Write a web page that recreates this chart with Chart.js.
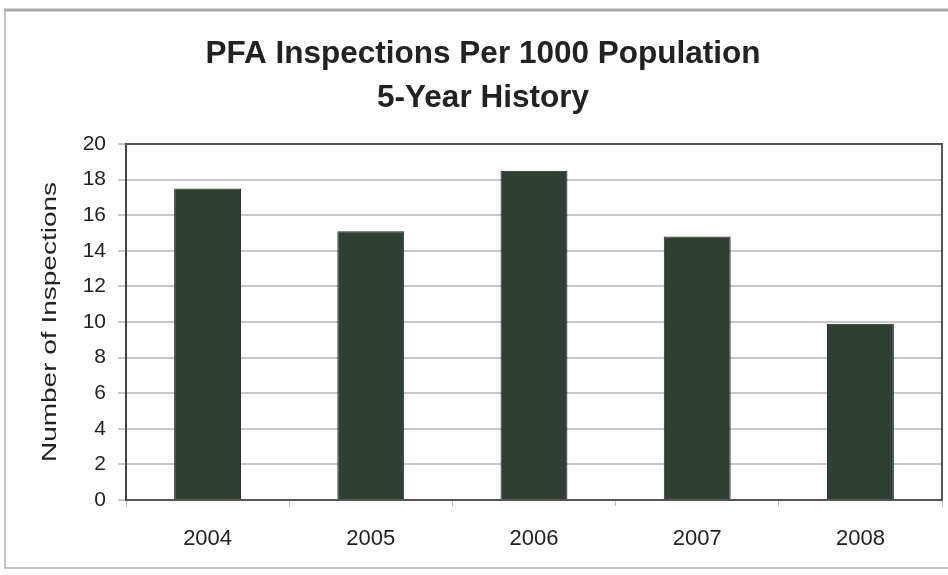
<!DOCTYPE html>
<html>
<head>
<meta charset="utf-8">
<title>PFA Inspections</title>
<script src="https://cdn.jsdelivr.net/npm/chart.js@4.4.1/dist/chart.umd.min.js"></script>
<style>
    html, body { margin: 0; padding: 0; background: #fff; }
    #wrap { width: 948px; height: 575px; }
</style>
</head>
<body>
<div id="wrap"><canvas id="inspChart" width="948" height="575"></canvas></div>
<script>
var years = ['2004', '2005', '2006', '2007', '2008'];
var inspections = [17.5, 15.1, 18.5, 14.8, 9.9];
var titleLines = ['PFA Inspections Per 1000 Population', '5-Year History'];
var yAxisTitle = 'Number of Inspections';

var FONT = '"Liberation Sans", Arial, Helvetica, sans-serif';

// outer frame of the chart object and the closed plot-area box
var framePlugin = {
    id: 'frame',
    beforeDraw: function (chart) {
        var ctx = chart.ctx;
        ctx.save();
        ctx.strokeStyle = '#a8a8a8';
        ctx.lineWidth = 3;
        ctx.beginPath();
        ctx.moveTo(4, 10);
        ctx.lineTo(948, 10);
        ctx.stroke();
        ctx.lineWidth = 1.5;
        ctx.strokeStyle = '#b0b0b0';
        ctx.beginPath();
        ctx.moveTo(5, 10);
        ctx.lineTo(5, 568);
        ctx.lineTo(948, 568);
        ctx.stroke();
        ctx.restore();
    },
    afterDatasetsDraw: function (chart) {
        var a = chart.chartArea;
        var ctx = chart.ctx;
        ctx.save();
        ctx.strokeStyle = '#555';
        ctx.lineWidth = 2;
        ctx.beginPath();
        ctx.moveTo(a.left, a.top);
        ctx.lineTo(a.right, a.top);
        ctx.lineTo(a.right, a.bottom);
        ctx.stroke();
        ctx.restore();
    }
};

// rotated axis title, stretched along its length
var yTitlePlugin = {
    id: 'yTitle',
    afterDraw: function (chart) {
        var a = chart.chartArea;
        var ctx = chart.ctx;
        ctx.save();
        ctx.translate(50, (a.top + a.bottom) / 2);
        ctx.rotate(-Math.PI / 2);
        ctx.scale(1.4, 1);
        ctx.font = '20px ' + FONT;
        ctx.fillStyle = '#222';
        ctx.textAlign = 'center';
        ctx.textBaseline = 'middle';
        ctx.fillText(yAxisTitle, 0, 0);
        ctx.restore();
    }
};

new Chart(document.getElementById('inspChart'), {
    type: 'bar',
    data: {
        labels: years,
        datasets: [{
            label: yAxisTitle,
            data: inspections,
            backgroundColor: '#2f3f33',
            borderColor: '#1d2820',
            borderWidth: 1,
            barPercentage: 0.41,
            categoryPercentage: 1
        }]
    },
    options: {
        responsive: false,
        animation: false,
        layout: { padding: { left: 24, right: 6, top: 0, bottom: 0 } },
        plugins: {
            legend: { display: false },
            tooltip: { enabled: false },
            title: {
                display: true,
                text: titleLines,
                color: '#222',
                font: { family: FONT, size: 31.5, weight: 'bold', lineHeight: '44px' },
                padding: { top: 32, bottom: 24 }
            }
        },
        scales: {
            x: {
                offset: true,
                grid: {
                    offset: true,
                    drawOnChartArea: false,
                    color: '#b8b8b8',
                    tickLength: 6
                },
                border: { color: '#555', width: 2 },
                ticks: {
                    color: '#222',
                    font: { family: FONT, size: 22 },
                    padding: 20
                },
                afterFit: function (scale) { scale.height = 75; }
            },
            y: {
                min: 0,
                max: 20,
                ticks: {
                    stepSize: 2,
                    color: '#222',
                    font: { family: FONT, size: 21 },
                    padding: 12
                },
                grid: {
                    color: '#c8c8c8',
                    lineWidth: 2,
                    tickLength: 8
                },
                border: { color: '#444', width: 2 },
                afterFit: function (scale) { scale.width = 102; }
            }
        }
    },
    plugins: [framePlugin, yTitlePlugin]
});
</script>
</body>
</html>
